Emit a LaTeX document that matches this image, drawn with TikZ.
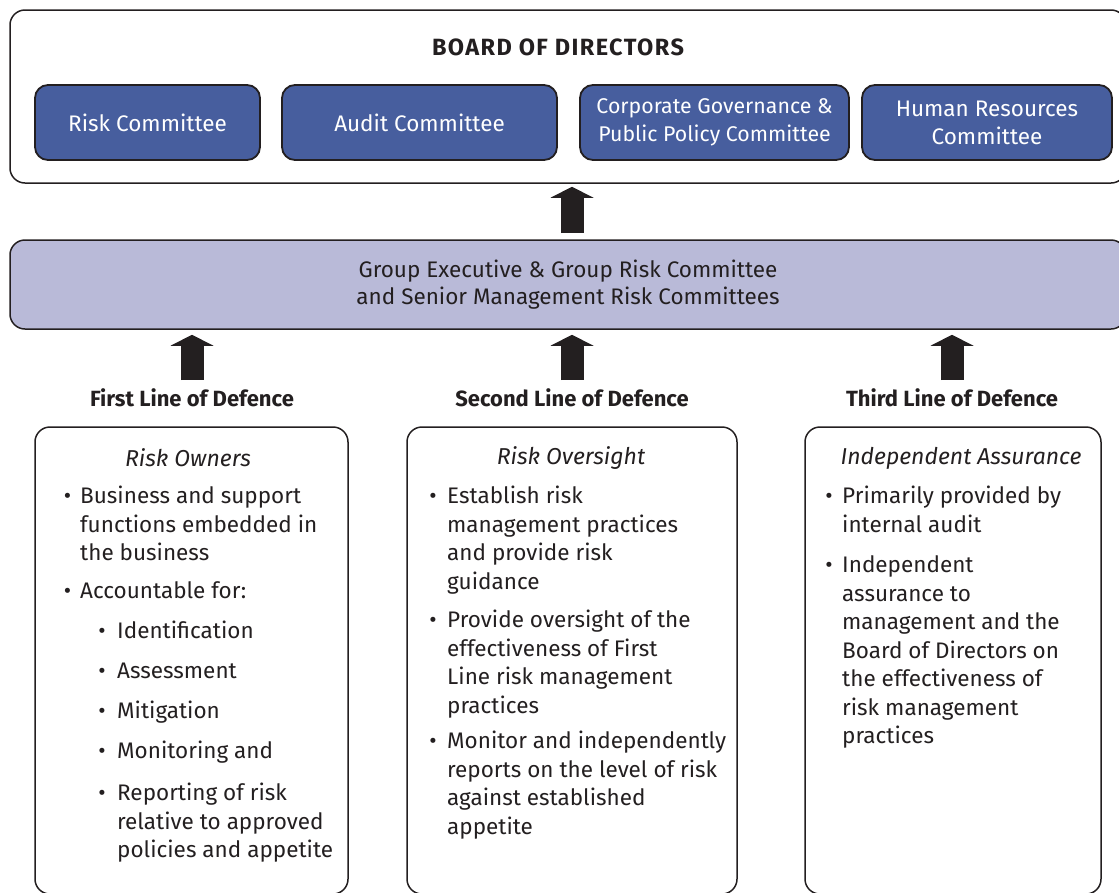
\documentclass[tikz,border=0pt]{standalone}
\usepackage{fontspec}
\setmainfont{Fira Sans}
\usetikzlibrary{arrows.meta,calc}
\definecolor{dk}{HTML}{231F20}
\definecolor{commblue}{HTML}{475E9E}
\definecolor{lav}{HTML}{B9BAD8}
\begin{document}
\begin{tikzpicture}[x=1pt,y=-1pt,
  frame/.style={draw=dk, line width=1.5pt, rounded corners=15pt, inner sep=0pt},
  comm/.style={draw=dk, line width=1.8pt, fill=commblue, rounded corners=13pt, text=white,
    align=center, font=\fontsize{22.5}{28}\selectfont, inner sep=0pt, minimum height=75pt},
  txt/.style={anchor=west, inner sep=0pt, font=\fontsize{22.5}{28}\selectfont,
    text height=15pt, text depth=4pt, text=dk},
  bul/.style={txt, anchor=center},
  ttl/.style={inner sep=0pt, font=\itshape\fontsize{23}{28}\selectfont, text=dk},
  lbl/.style={inner sep=0pt, font=\bfseries\fontsize{22}{26}\selectfont, text=dk},
  bigarrow/.style={draw=dk, line width=23pt, -{Triangle[width=43pt,length=11pt,line width=0pt]}}
]
\clip (0,0) rectangle (1119,892);
% Board of directors
\node[frame, minimum width=1116pt, minimum height=173pt] (board) at (568,96.5) {};
\node[inner sep=0pt, font=\bfseries\fontsize{23.5}{26}\selectfont\addfontfeature{LetterSpace=6}, text=dk] (btitle) at (558,47) {BOARD OF DIRECTORS};
\node[comm, minimum width=225pt] (risk) at (147.5,122.5) {Risk Committee};
\node[comm, minimum width=275pt] (audit) at (419.5,122.5) {Audit Committee};
\node[comm, minimum width=269pt, font=\fontsize{21.3}{28}\selectfont] (corp) at (714.5,122.5) {Corporate Governance \&\\Public Policy Committee};
\node[comm, minimum width=250pt] (hr) at (987,122.5) {Human Resources\\Committee};
% Group executive
\node[frame, fill=lav, minimum width=1116pt, minimum height=89pt, align=center,
  font=\fontsize{22.5}{27}\selectfont, text=dk] (gexec) at (568,284.5)
  {Group Executive \& Group Risk Committee\\and Senior Management Risk Committees};
% arrows
\coordinate (a0) at (572,233);
\draw[bigarrow] (a0) -- ([yshift=-3pt]a0 |- board.south);
% labels
\node[lbl] (l1) at (192,398) {First Line of Defence};
\node[lbl] (l2) at (572,398) {Second Line of Defence};
\node[lbl] (l3) at (952,398) {Third Line of Defence};
\coordinate (a1) at (192,380);
\coordinate (a2) at (572,380);
\coordinate (a3) at (952,380);
\draw[bigarrow] (a1) -- ([yshift=-5pt]a1 |- gexec.south);
\draw[bigarrow] (a2) -- ([yshift=-5pt]a2 |- gexec.south);
\draw[bigarrow] (a3) -- ([yshift=-5pt]a3 |- gexec.south);
% bottom boxes
\node[frame, minimum width=313pt, minimum height=467pt] (b1) at (191.5,660.5) {};
\node[frame, minimum width=330pt, minimum height=467pt] (b2) at (572,660.5) {};
\node[frame, minimum width=296pt, minimum height=467pt] (b3) at (953,660.5) {};
% box 1
\node[ttl] (t1) at (188,458) {Risk Owners};
\node[bul] (p1a) at (67.5,498) {•};
\node[bul] (p1b) at (67.5,593) {•};
\foreach \t [count=\i from 0] in {Business and support,functions embedded in,the business}
  \node[txt] (o1a\i) at (80,498+28.5*\i) {\t};
\node[txt] (o1b) at (80,593) {Accountable for:};
\node[bul] (q1a) at (102,633) {•};
\node[bul] (q1b) at (102,673) {•};
\node[bul] (q1c) at (102,713) {•};
\node[bul] (q1d) at (102,753) {•};
\node[bul] (q1e) at (102,795) {•};
\node[txt] (s1a) at (117,633) {Identification};
\node[txt] (s1b) at (117,673) {Assessment};
\node[txt] (s1c) at (117,713) {Mitigation};
\node[txt] (s1d) at (117,753) {Monitoring and};
\foreach \t [count=\i from 0] in {Reporting of risk,relative to approved,policies and appetite}
  \node[txt] (s1e\i) at (117,795+28.5*\i) {\t};
% box 2
\node[ttl] (t2) at (571,458) {Risk Oversight};
\node[bul] (p2a) at (433,498) {•};
\node[bul] (p2b) at (433,622) {•};
\node[bul] (p2c) at (433,743) {•};
\foreach \t [count=\i from 0] in {Establish risk,management practices,and provide risk,guidance}
  \node[txt] (o2a\i) at (447,498+28.5*\i) {\t};
\foreach \t [count=\i from 0] in {Provide oversight of the,effectiveness of First,Line risk management,practices}
  \node[txt] (o2b\i) at (447,622+28.5*\i) {\t};
\foreach \t [count=\i from 0] in {Monitor and independently,reports on the level of risk,against established,appetite}
  \node[txt] (o2c\i) at (447,743+28.5*\i) {\t};
% box 3
\node[ttl] (t3) at (961,458) {Independent Assurance};
\node[bul] (p3a) at (829,498) {•};
\node[bul] (p3b) at (829,567) {•};
\foreach \t [count=\i from 0] in {Primarily provided by,internal audit}
  \node[txt] (o3a\i) at (842,498+28.5*\i) {\t};
\foreach \t [count=\i from 0] in {Independent,assurance to,management and the,Board of Directors on,the effectiveness of,risk management,practices}
  \node[txt] (o3b\i) at (842,567+28.5*\i) {\t};
\end{tikzpicture}
\end{document}
